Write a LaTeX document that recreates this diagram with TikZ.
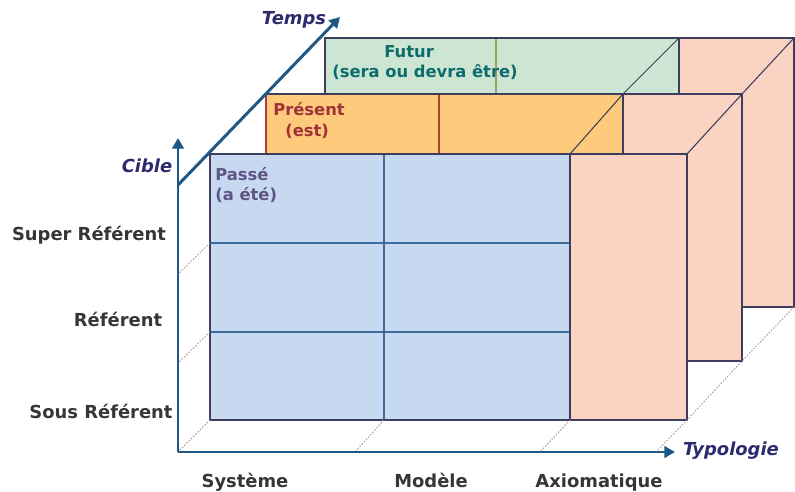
\documentclass[tikz,border=0pt]{standalone}
\usepackage{fontspec}
\setmainfont{DejaVu Sans}
\usetikzlibrary{arrows.meta}
\definecolor{bleuface}{HTML}{C6D9F1}
\definecolor{orangeface}{HTML}{FDCB7B}
\definecolor{vertface}{HTML}{CDE5D3}
\definecolor{saumon}{HTML}{FAD3C2}
\definecolor{bord}{HTML}{3E3D5E}
\definecolor{axebleu}{HTML}{1F5785}
\definecolor{marine}{HTML}{2D2B6E}
\definecolor{gristexte}{HTML}{363636}
\definecolor{sarcelle}{HTML}{0D6B6B}
\definecolor{bordeaux}{HTML}{A0303A}
\definecolor{violet}{HTML}{5E5584}
\definecolor{pointgris}{HTML}{9C8C8C}
\definecolor{traitvert}{HTML}{A09F62}
\definecolor{traitrouge}{HTML}{B0383F}
\definecolor{traitbleu}{HTML}{3F6A9C}

\begin{document}
\begin{tikzpicture}[x=0.02cm,y=-0.02cm,
   face/.style={draw=bord,line width=0.6pt},
   axe/.style={draw=axebleu,line width=1.7pt,-{Triangle[length=6pt,width=6.5pt]}},
   tirets/.style={draw=pointgris,line width=0.45pt,dash pattern=on 0.9pt off 0.9pt},
   titre/.style={font=\fontsize{10.2}{12}\selectfont\bfseries\itshape,text=marine,inner sep=0pt,anchor=base},
   cat/.style={font=\fontsize{10.2}{12}\selectfont\bfseries,text=gristexte,inner sep=0pt,anchor=base},
   dedans/.style={font=\fontsize{9.3}{11}\selectfont\bfseries,inner sep=0pt,anchor=base west}]

\useasboundingbox (0,0) rectangle (795,492);

   % coins
   \coordinate (o) at (178,452);
   \coordinate (f1) at (210,154);
   \coordinate (f3) at (570,154);
   \coordinate (m3) at (623,94);
   \coordinate (b3) at (679,38);
   \coordinate (f4) at (687,154);
   \coordinate (m4) at (742,94);
   \coordinate (b4) at (794,38);
   \coordinate (fr1) at (210,243);
   \coordinate (fr2) at (210,332);
   \coordinate (fa) at (210,420);
   \coordinate (fb) at (384,420);
   \coordinate (fc) at (570,420);
   \coordinate (fd) at (687,420);
   \coordinate (md) at (742,361);
   \coordinate (bd) at (794,307);
   \coordinate (y1) at (178,274);
   \coordinate (y2) at (178,363);
   \coordinate (x1) at (355,452);
   \coordinate (x2) at (540,452);
   \coordinate (x3) at (656,452);
   \coordinate (t0) at (178,185);
   \coordinate (t1) at (340,17);
   \coordinate (c1) at (178,138);
   \coordinate (x4) at (675,452);

   % futur
   \fill[vertface] (325,38) rectangle (679,307);
   \fill[saumon] (679,38) rectangle (794,307);
   \draw[traitvert,line width=0.6pt] (496,38) -- (496,94);
   \draw[face] (325,38) rectangle (794,307);
   \draw[face] (679,38) -- (679,307);

   % present
   \fill[orangeface] (266,94) rectangle (623,361);
   \fill[saumon] (623,94) rectangle (742,361);
   \draw[traitrouge,line width=0.6pt] (439,94) -- (439,154);
   \draw[traitrouge,line width=0.6pt] (266,94) -- (266,154);
   \draw[face] (266,94) -- (742,94) -- (742,361) -- (623,361);
   \draw[face] (623,94) -- (623,361);

   % passe
   \fill[bleuface] (210,154) rectangle (570,420);
   \fill[saumon] (570,154) rectangle (687,420);
   \draw[traitbleu,line width=0.6pt] (384,154) -- (384,420);
   \draw[traitbleu,line width=0.6pt] (fr1) -- (570,243);
   \draw[traitbleu,line width=0.6pt] (fr2) -- (570,332);
   \draw[face] (210,154) rectangle (687,420);
   \draw[face] (570,154) -- (570,420);

   % aretes
   \draw[face] (f3) -- (m3) -- (b3);
   \draw[face] (f4) -- (m4) -- (b4);

   % pointilles
   \draw[tirets] (fr1) -- (y1);
   \draw[tirets] (fr2) -- (y2);
   \draw[tirets] (fa) -- (o);
   \draw[tirets] (fb) -- (x1);
   \draw[tirets] (fc) -- (x2);
   \draw[tirets] (bd) -- (md) -- (fd) -- (x3);

   % axes
   \draw[axe] (o) -- (c1);
   \draw[axe] (o) -- (x4);
   \draw[axe] (t0) -- (t1);

   \node[titre] (temps) at (294,25) {Temps};
   \node[titre] (cible) at (147,173) {Cible};
   \node[titre] (typo) at (731,456) {Typologie};

   \node[cat] (super) at (89,241) {Super Référent};
   \node[cat] (ref) at (118,327) {Référent};
   \node[cat] (sous) at (101,419) {Sous Référent};
   \node[cat] (sys) at (245,488) {Système};
   \node[cat] (mod) at (431,488) {Modèle};
   \node[cat] (axio) at (599,488) {Axiomatique};

   \node[dedans,text=sarcelle] (futur) at (384,58) {Futur};
   \node[dedans,text=sarcelle] (sera) at (332,78) {(sera ou devra être)};
   \node[dedans,text=bordeaux] (present) at (273,116) {Présent};
   \node[dedans,text=bordeaux] (est) at (285,137) {(est)};
   \node[dedans,text=violet] (passe) at (215,181) {Passé};
   \node[dedans,text=violet] (ete) at (215,201) {(a été)};

\end{tikzpicture}
\end{document}
